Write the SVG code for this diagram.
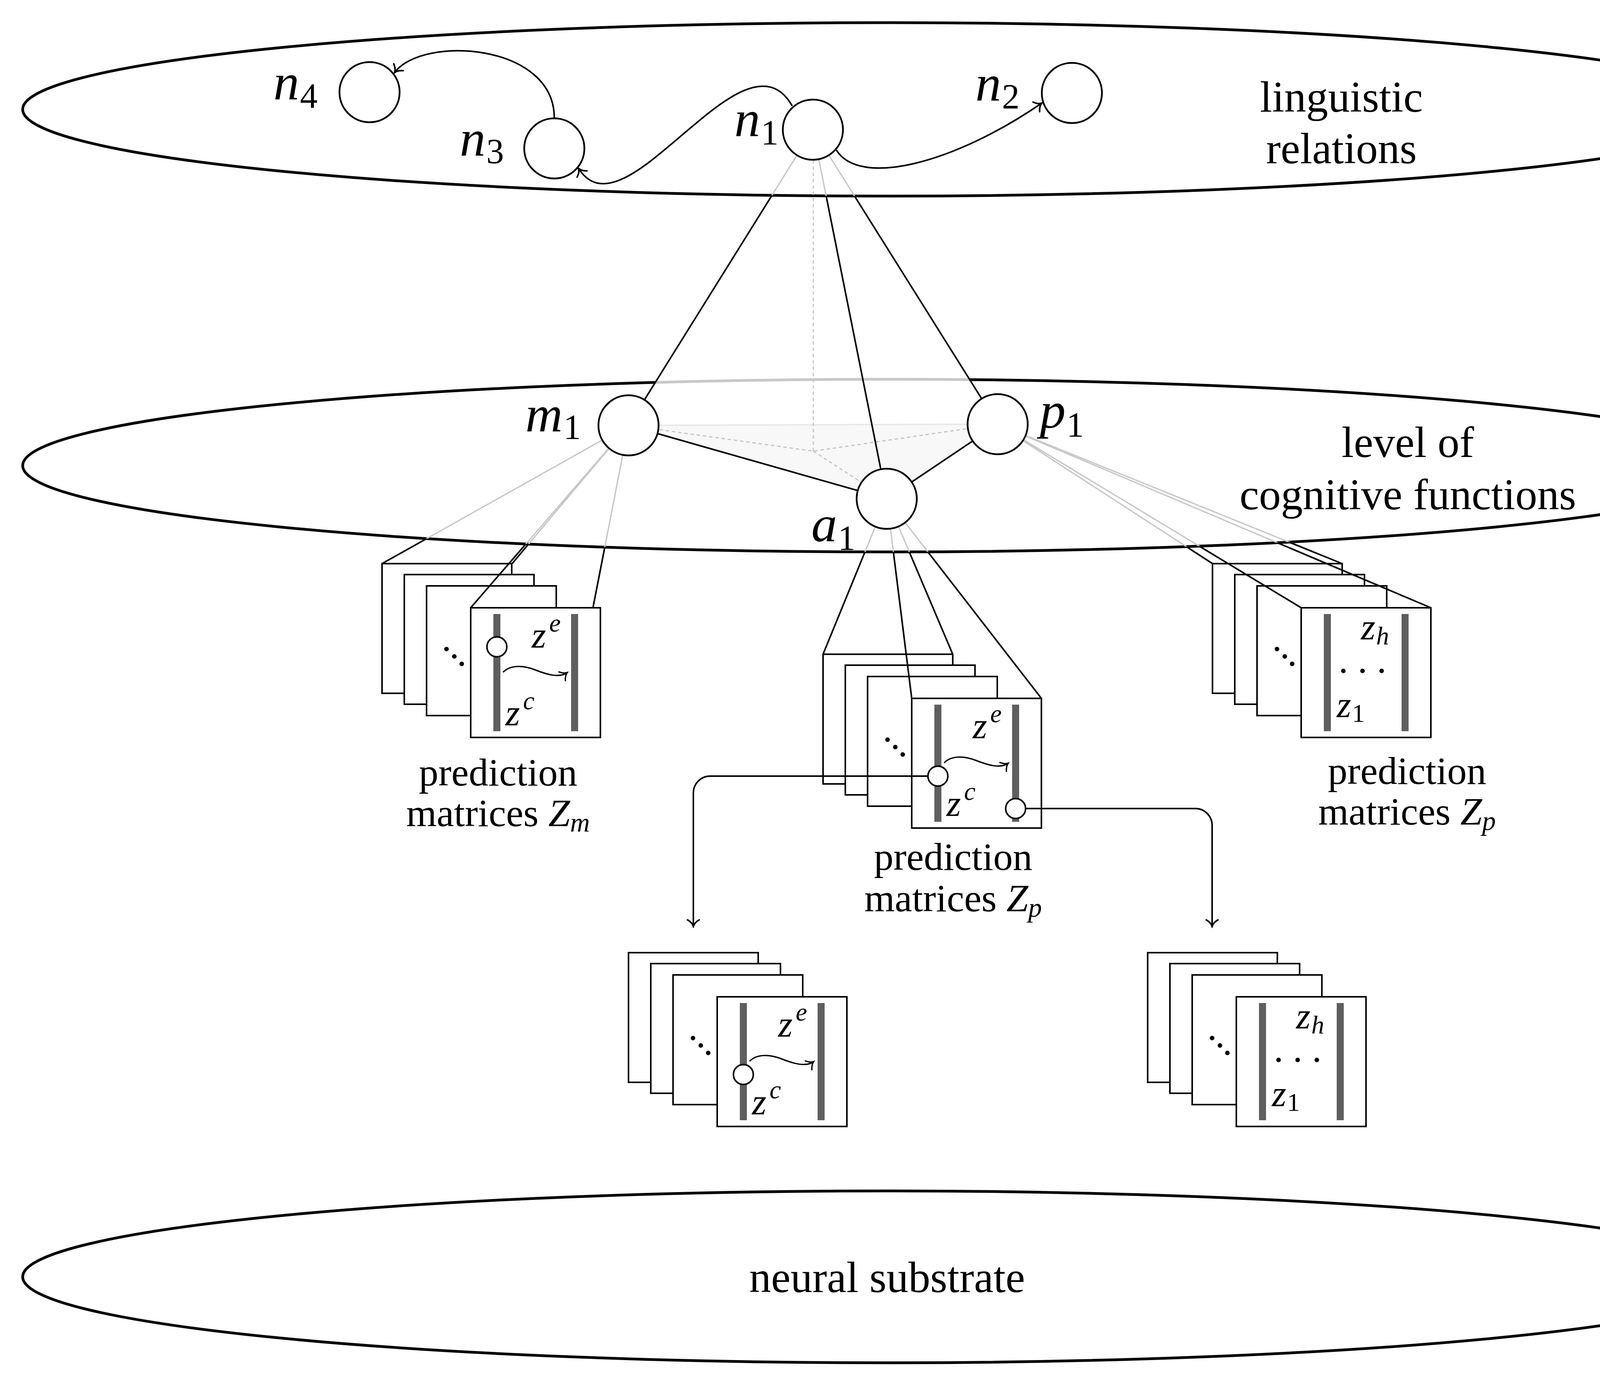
<svg xmlns="http://www.w3.org/2000/svg" width="4547" height="3551" viewBox="0 0 4547 3551">
<style>
.ell{fill:none;stroke:#000;stroke-width:7}
.ellg{fill:none;stroke:#c8c8c8;stroke-width:7}
.node{fill:#fff;stroke:#000;stroke-width:4.5}
.fr{fill:#fff;stroke:#000;stroke-width:4}
.bar{fill:#5f5f5f}
.ln{stroke:#000;stroke-width:4;fill:none}
.gl{stroke:#c8c8c8;stroke-width:3.5;fill:none}
.dash{stroke:#c4c4c4;stroke-width:3;stroke-dasharray:9 7;fill:none}
.wv{stroke:#000;stroke-width:3.5;fill:none}
.dot{fill:#fff;stroke:#000;stroke-width:4}
.t{font-family:"Liberation Serif","Times New Roman",serif;fill:#000}
.big{font-size:112px}
.lab{font-size:100px}
.nl{font-size:132px;font-style:italic}
.ns{font-size:90px;font-style:normal}
.z{font-size:95px;font-style:italic}
.zs{font-size:66px}
.zn{font-size:66px;font-style:normal}
.mi{font-style:italic}
.dd{font-size:72px;font-weight:bold}
</style>
<defs>
<marker id="to" markerUnits="userSpaceOnUse" viewBox="-22 -20 26 40" refX="0" refY="0" markerWidth="26" markerHeight="40" orient="auto">
<path d="M-17 -15C-12 -6 -5 -1.5 0 0C-5 1.5 -12 6 -17 15" fill="none" stroke="#000" stroke-width="4" stroke-linecap="round"/>
</marker>
<marker id="tos" markerUnits="userSpaceOnUse" viewBox="-22 -20 26 40" refX="0" refY="0" markerWidth="26" markerHeight="40" orient="auto">
<path d="M-16 -14C-11 -6 -5 -1.5 0 0C-5 1.5 -11 6 -16 14" fill="none" stroke="#000" stroke-width="3.5" stroke-linecap="round"/>
</marker>
<mask id="mOutTop" maskUnits="userSpaceOnUse" x="0" y="0" width="4547" height="3551">
<rect width="4547" height="3551" fill="#fff"/>
<ellipse cx="2273" cy="280" rx="2215" ry="222" fill="#000"/>
</mask>
<mask id="mOutMid" maskUnits="userSpaceOnUse" x="0" y="0" width="4547" height="3551">
<rect width="4547" height="3551" fill="#fff"/>
<ellipse cx="2273" cy="1192" rx="2215" ry="221" fill="#000"/>
</mask>
<clipPath id="cNoTri"><path clip-rule="evenodd" d="M0 0H4547V3551H0Z M2081 332L1609 1089L2554 1086Z"/></clipPath>
<clipPath id="cTri"><path d="M2081 332L1609 1089L2554 1086Z"/></clipPath>
</defs>
<rect width="4547" height="3551" fill="#fff"/>

<g id="layers">
<g id="layer-linguistic">
<ellipse class="ell" cx="2273" cy="280" rx="2215" ry="222"/>
<text class="t big" x="3434" y="286" text-anchor="middle">linguistic</text>
<text class="t big" x="3434" y="418" text-anchor="middle">relations</text>
</g>
<g id="layer-cognitive">
<ellipse class="ell" cx="2273" cy="1192" rx="2215" ry="221" clip-path="url(#cNoTri)"/>
<ellipse class="ellg" cx="2273" cy="1192" rx="2215" ry="221" clip-path="url(#cTri)"/>
<text class="t big" x="3604" y="1170" text-anchor="middle">level of</text>
<text class="t big" x="3604" y="1304" text-anchor="middle">cognitive functions</text>
</g>
<g id="layer-neural">
<ellipse class="ell" cx="2273" cy="3269" rx="2215" ry="220"/>
<text class="t big" x="2271" y="3308" text-anchor="middle">neural substrate</text>
</g>
</g>

<g id="hidden-pyramid">
<polygon points="1609,1089 2554,1086 2270,1277" fill="#f8f8f8"/>
<line x1="1609" y1="1089" x2="2554" y2="1086" stroke="#e6e6e6" stroke-width="3.5"/>
<path class="dash" d="M2082 410V1155M1609 1089L2082 1155L2554 1086M2082 1155L2270 1277"/>
</g>

<g id="Zm" transform="translate(978,1443)">
<rect class="fr" x="0" y="0" width="332" height="332"/>
<rect class="fr" x="57" y="28" width="332" height="332"/>
<rect class="fr" x="114" y="57" width="332" height="332"/>
<text class="t dd" x="156" y="224">.<tspan dx="2" dy="19">.</tspan><tspan dx="1" dy="19">.</tspan></text>
<rect class="fr" x="227" y="113" width="332" height="332"/>
<rect class="bar" x="285" y="129" width="18" height="300"/>
<rect class="bar" x="484" y="129" width="18" height="300"/>
<circle class="dot" cx="294" cy="213" r="25.5"/>
<path class="wv" d="M310 278C327 260 359 259 392 272S455 293 474 279" marker-end="url(#tos)"/>
<text class="t z" x="383" y="215">z<tspan class="zs" dx="8" dy="-41">e</tspan></text>
<text class="t z" x="316" y="414">z<tspan class="zs" dx="8" dy="-41">c</tspan></text>
</g>

<g id="Zp-mid" transform="translate(2107,1675)">
<rect class="fr" x="0" y="0" width="332" height="332"/>
<rect class="fr" x="57" y="28" width="332" height="332"/>
<rect class="fr" x="114" y="57" width="332" height="332"/>
<text class="t dd" x="156" y="224">.<tspan dx="2" dy="19">.</tspan><tspan dx="1" dy="19">.</tspan></text>
<rect class="fr" x="227" y="113" width="332" height="332"/>
<rect class="bar" x="285" y="129" width="18" height="300"/>
<rect class="bar" x="484" y="129" width="18" height="300"/>
<path class="wv" d="M310 278C327 260 359 259 392 272S455 293 474 279" marker-end="url(#tos)"/>
<text class="t z" x="383" y="215">z<tspan class="zs" dx="8" dy="-41">e</tspan></text>
<text class="t z" x="316" y="414">z<tspan class="zs" dx="8" dy="-41">c</tspan></text>
</g>

<g id="Zp-right" transform="translate(3104,1443)">
<rect class="fr" x="0" y="0" width="332" height="332"/>
<rect class="fr" x="57" y="28" width="332" height="332"/>
<rect class="fr" x="114" y="57" width="332" height="332"/>
<text class="t dd" x="156" y="224">.<tspan dx="2" dy="19">.</tspan><tspan dx="1" dy="19">.</tspan></text>
<rect class="fr" x="227" y="113" width="332" height="332"/>
<rect class="bar" x="285" y="129" width="18" height="300"/>
<rect class="bar" x="484" y="129" width="18" height="300"/>
<text class="t z" x="380" y="194">z<tspan class="zs" dx="2" dy="13">h</tspan></text>
<text class="t dd" x="326" y="280" letter-spacing="31">...</text>
<text class="t z" x="318" y="393">z<tspan class="zn" dx="2" dy="12">1</tspan></text>
</g>

<g id="Z-bottom-left" transform="translate(1609,2439)">
<rect class="fr" x="0" y="0" width="332" height="332"/>
<rect class="fr" x="57" y="28" width="332" height="332"/>
<rect class="fr" x="114" y="57" width="332" height="332"/>
<text class="t dd" x="156" y="224">.<tspan dx="2" dy="19">.</tspan><tspan dx="1" dy="19">.</tspan></text>
<rect class="fr" x="227" y="113" width="332" height="332"/>
<rect class="bar" x="285" y="129" width="18" height="300"/>
<rect class="bar" x="484" y="129" width="18" height="300"/>
<circle class="dot" cx="294" cy="312" r="25.5"/>
<path class="wv" d="M310 278C327 260 359 259 392 272S455 293 474 279" marker-end="url(#tos)"/>
<text class="t z" x="383" y="215">z<tspan class="zs" dx="8" dy="-41">e</tspan></text>
<text class="t z" x="316" y="414">z<tspan class="zs" dx="8" dy="-41">c</tspan></text>
</g>

<g id="Z-bottom-right" transform="translate(2938,2439)">
<rect class="fr" x="0" y="0" width="332" height="332"/>
<rect class="fr" x="57" y="28" width="332" height="332"/>
<rect class="fr" x="114" y="57" width="332" height="332"/>
<text class="t dd" x="156" y="224">.<tspan dx="2" dy="19">.</tspan><tspan dx="1" dy="19">.</tspan></text>
<rect class="fr" x="227" y="113" width="332" height="332"/>
<rect class="bar" x="285" y="129" width="18" height="300"/>
<rect class="bar" x="484" y="129" width="18" height="300"/>
<text class="t z" x="380" y="194">z<tspan class="zs" dx="2" dy="13">h</tspan></text>
<text class="t dd" x="326" y="280" letter-spacing="31">...</text>
<text class="t z" x="318" y="393">z<tspan class="zn" dx="2" dy="12">1</tspan></text>
</g>

<g id="connectors">
<g id="n1-links">
<path class="gl" d="M2081 332L1609 1089M2081 332L2270 1277M2081 332L2554 1086"/>
<path class="ln" mask="url(#mOutTop)" d="M2081 332L1609 1089M2081 332L2270 1277M2081 332L2554 1086"/>
</g>
<path class="ln" d="M1609 1089L2270 1277L2554 1086"/>
<g id="stack-links">
<path class="gl" d="M1609 1089L978 1443M1609 1089L1311 1443M1609 1089L1205 1556M1609 1089L1518 1556M2270 1277L2107 1675M2270 1277L2439 1675M2270 1277L2334 1788M2270 1277L2666 1788M2554 1086L3104 1443M2554 1086L3436 1443M2554 1086L3331 1556M2554 1086L3663 1556"/>
<path class="ln" mask="url(#mOutMid)" d="M1609 1089L978 1443M1609 1089L1311 1443M1609 1089L1205 1556M1609 1089L1518 1556M2270 1277L2107 1675M2270 1277L2439 1675M2270 1277L2334 1788M2270 1277L2666 1788M2554 1086L3104 1443M2554 1086L3436 1443M2554 1086L3331 1556M2554 1086L3663 1556"/>
</g>
<path class="ln" d="M2375 1987H1818A43 43 0 0 0 1775 2030V2372" marker-end="url(#to)"/>
<path class="ln" d="M2626 2070H3060A43 43 0 0 1 3103 2113V2372" marker-end="url(#to)"/>
<circle class="dot" cx="2401" cy="1987" r="25.5"/>
<circle class="dot" cx="2600" cy="2070" r="25.5"/>
<path class="ln" d="M2028 271C1903 54 1600 620 1481 431" marker-end="url(#to)"/>
<path class="ln" d="M1419 302C1419 110 1080 90 1010 186" marker-end="url(#to)"/>
<path class="ln" d="M2141 384C2200 480 2440 420 2667 264" marker-end="url(#to)"/>
</g>

<g id="n4"><circle class="node" cx="946" cy="236" r="77"/><text class="t nl" x="700" y="255">n<tspan class="ns" dx="2" dy="21">4</tspan></text></g>
<g id="n3"><circle class="node" cx="1419" cy="380" r="77"/><text class="t nl" x="1177" y="399">n<tspan class="ns" dx="2" dy="19">3</tspan></text></g>
<g id="n1"><circle class="node" cx="2081" cy="332" r="77"/><text class="t nl" x="1880" y="349">n<tspan class="ns" dx="2" dy="21">1</tspan></text></g>
<g id="n2"><circle class="node" cx="2744" cy="238" r="77"/><text class="t nl" x="2497" y="258">n<tspan class="ns" dx="2" dy="20">2</tspan></text></g>
<g id="m1"><circle class="node" cx="1609" cy="1089" r="77"/><text class="t nl" x="1345" y="1104">m<tspan class="ns" dx="2" dy="20">1</tspan></text></g>
<g id="p1"><circle class="node" cx="2554" cy="1086" r="77"/><text class="t nl" x="2662" y="1095">p<tspan class="ns" dx="2" dy="23">1</tspan></text></g>
<g id="a1"><circle class="node" cx="2270" cy="1277" r="77"/><text class="t nl" x="2077" y="1386">a<tspan class="ns" dx="2" dy="22">1</tspan></text></g>

<g id="stack-labels">
<text class="t lab" x="1275" y="2011" text-anchor="middle">prediction</text>
<text class="t lab" x="1275" y="2115" text-anchor="middle">matrices <tspan class="mi">Z</tspan><tspan class="mi" style="font-size:70px" dy="14">m</tspan></text>
<text class="t lab" x="2440" y="2227" text-anchor="middle">prediction</text>
<text class="t lab" x="2440" y="2333" text-anchor="middle">matrices <tspan class="mi">Z</tspan><tspan class="mi" style="font-size:70px" dy="14">p</tspan></text>
<text class="t lab" x="3602" y="2007" text-anchor="middle">prediction</text>
<text class="t lab" x="3602" y="2111" text-anchor="middle">matrices <tspan class="mi">Z</tspan><tspan class="mi" style="font-size:70px" dy="14">p</tspan></text>
</g>
</svg>
